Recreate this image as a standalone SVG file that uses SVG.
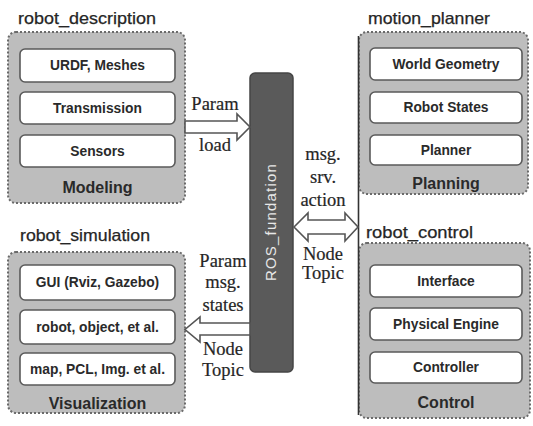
<svg xmlns="http://www.w3.org/2000/svg" width="533" height="426" viewBox="0 0 533 426">
<style>
.outer{fill:#bdbdbd;stroke:#6a6a6a;stroke-width:2;stroke-dasharray:2 2}
.inner{fill:#ffffff;stroke:#5a5a5a;stroke-width:1.6}
.it{font-family:"Liberation Sans",Arial,sans-serif;font-weight:bold;font-size:13.8px;fill:#2a2a2a;text-anchor:middle;dominant-baseline:central}
.lab{font-family:"Liberation Sans",Arial,sans-serif;font-weight:bold;font-size:16px;fill:#2a2a2a;text-anchor:middle}
.title{font-family:"Liberation Sans",Arial,sans-serif;font-size:16.5px;fill:#262626;stroke:#262626;stroke-width:0.25}
.ser{font-family:"Liberation Serif","Times New Roman",serif;font-size:18.5px;fill:#262626;stroke:#262626;stroke-width:0.2;text-anchor:middle}
.arr{fill:#ffffff;stroke:#555;stroke-width:1.6;stroke-linejoin:miter}
</style>
<rect width="533" height="426" fill="#ffffff"/>

<g id="robot_description">
<text class="title" x="18" y="24" textLength="138" lengthAdjust="spacingAndGlyphs">robot_description</text>
<rect class="outer" x="8" y="32" width="177" height="171" rx="8"/>
<rect class="inner" x="20" y="49" width="155" height="33" rx="5"/>
<text class="it" x="97.5" y="65.5">URDF, Meshes</text>
<rect class="inner" x="20" y="92" width="155" height="32" rx="5"/>
<text class="it" x="97.5" y="108">Transmission</text>
<rect class="inner" x="20" y="135" width="155" height="32" rx="5"/>
<text class="it" x="97.5" y="151">Sensors</text>
<text class="lab" x="97.5" y="193">Modeling</text>
</g>

<g id="motion_planner">
<text class="title" x="368" y="24" textLength="122" lengthAdjust="spacingAndGlyphs">motion_planner</text>
<rect class="outer" x="359" y="32" width="169" height="162" rx="8"/>
<rect class="inner" x="370" y="48" width="152" height="32" rx="5"/>
<text class="it" x="446" y="64">World Geometry</text>
<rect class="inner" x="370" y="92" width="152" height="31" rx="5"/>
<text class="it" x="446" y="107.5">Robot States</text>
<rect class="inner" x="370" y="135" width="152" height="30" rx="5"/>
<text class="it" x="446" y="150">Planner</text>
<text class="lab" x="446" y="189">Planning</text>
</g>

<g id="robot_simulation">
<text class="title" x="20" y="241" textLength="130" lengthAdjust="spacingAndGlyphs">robot_simulation</text>
<rect class="outer" x="8" y="252" width="177" height="161" rx="8"/>
<rect class="inner" x="20" y="265" width="155" height="35" rx="5"/>
<text class="it" x="97.5" y="282.5">GUI (Rviz, Gazebo)</text>
<rect class="inner" x="20" y="310" width="155" height="34" rx="5"/>
<text class="it" x="97.5" y="327">robot, object, et al.</text>
<rect class="inner" x="20" y="353" width="155" height="32" rx="5"/>
<text class="it" x="97.5" y="369">map, PCL, Img. et al.</text>
<text class="lab" x="97.5" y="409">Visualization</text>
</g>

<g id="robot_control">
<text class="title" x="366" y="238" textLength="107" lengthAdjust="spacingAndGlyphs">robot_control</text>
<rect class="outer" x="359" y="243" width="171" height="175" rx="8"/>
<rect class="inner" x="370" y="265" width="152" height="32" rx="5"/>
<text class="it" x="446" y="281">Interface</text>
<rect class="inner" x="370" y="308" width="152" height="32" rx="5"/>
<text class="it" x="446" y="324">Physical Engine</text>
<rect class="inner" x="370" y="352" width="152" height="31" rx="5"/>
<text class="it" x="446" y="367.5">Controller</text>
<text class="lab" x="446" y="408">Control</text>
</g>

<g id="ros_fundation">
<rect x="250" y="73" width="43" height="299" rx="5" fill="#5a5a5a" stroke="#454545" stroke-width="1.5"/>
<text x="0" y="0" transform="translate(276,222) rotate(-90)" font-family="'Liberation Sans',Arial,sans-serif" font-size="15px" letter-spacing="1.2" fill="#e8e8e8" text-anchor="middle">ROS_fundation</text>
</g>

<g id="connectors">
<line x1="358.5" y1="36" x2="358.5" y2="415" stroke="#333" stroke-width="1.6"/>
<path class="arr" d="M185,121 L237,121 L237,114 L250,127 L237,140 L237,133 L185,133 Z"/>
<path class="arr" d="M250,323 L200,323 L200,317 L185,329.5 L200,342 L200,335 L250,335 Z"/>
<path class="arr" d="M294,227 L308,213 L308,220 L345,220 L345,213 L358,227 L345,241 L345,234 L308,234 L308,241 Z"/>
<text class="ser" x="215" y="110">Param</text>
<text class="ser" x="215" y="151">load</text>
<text class="ser" x="323" y="160">msg.</text>
<text class="ser" x="323" y="183">srv.</text>
<text class="ser" x="323" y="206">action</text>
<text class="ser" x="323" y="260">Node</text>
<text class="ser" x="323" y="279">Topic</text>
<text class="ser" x="223" y="267">Param</text>
<text class="ser" x="223" y="288">msg.</text>
<text class="ser" x="223" y="311">states</text>
<text class="ser" x="223" y="355">Node</text>
<text class="ser" x="223" y="376">Topic</text>
</g>
</svg>
